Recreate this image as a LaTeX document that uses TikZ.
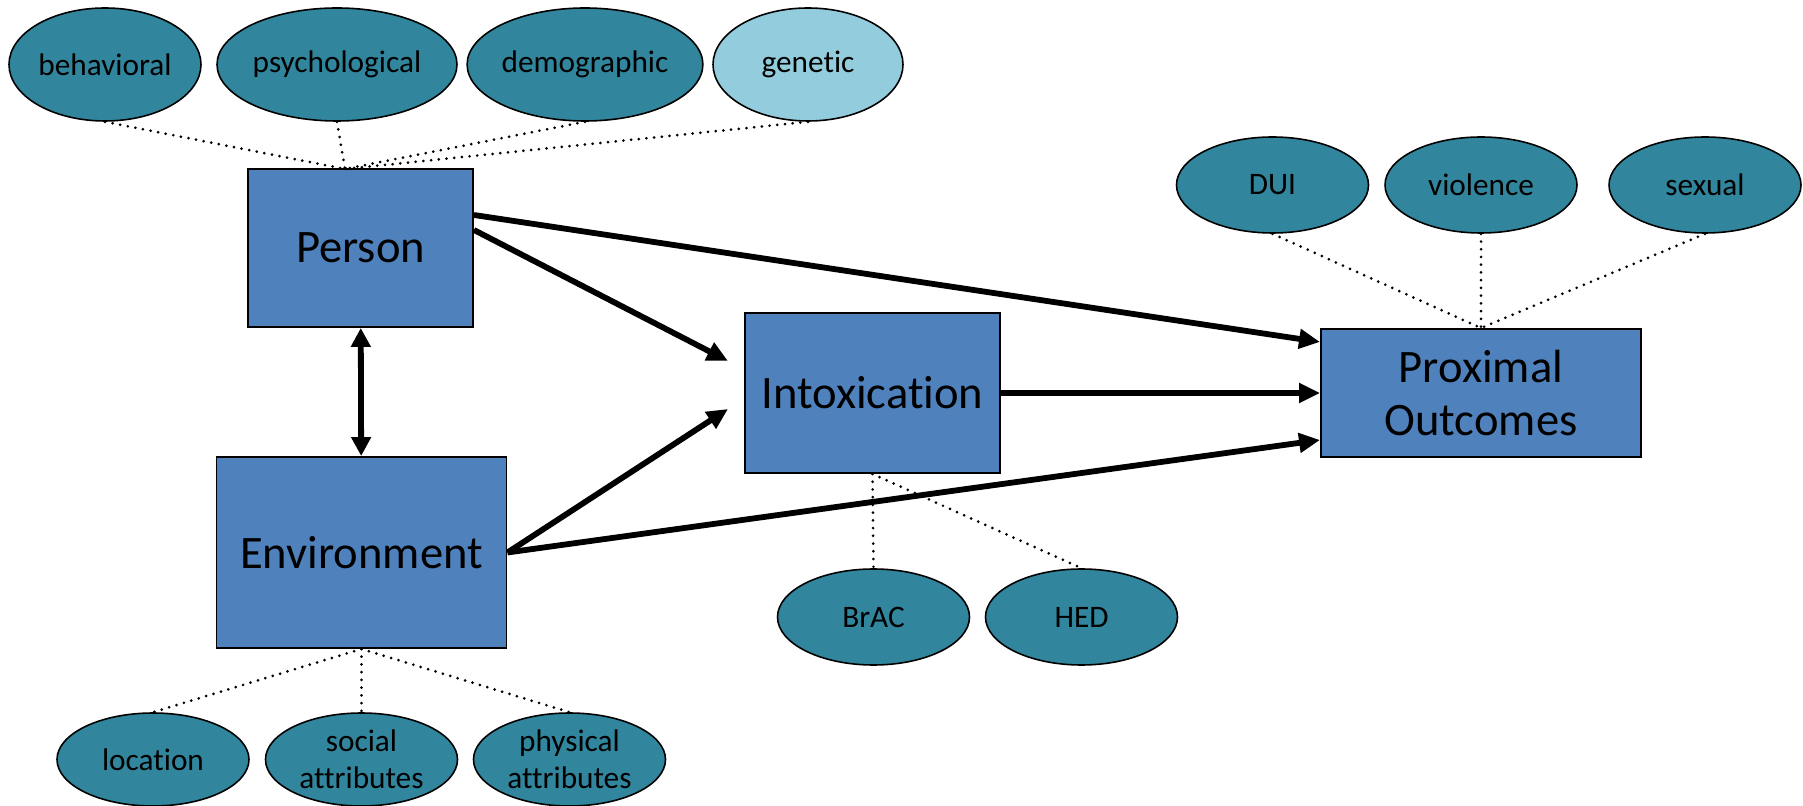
\documentclass[tikz,border=0pt]{standalone}
\usepackage{fontspec}
\setmainfont{Carlito}[Ligatures=NoCommon]
\usetikzlibrary{shapes,arrows.meta}
\definecolor{boxblue}{HTML}{4F81BD}
\definecolor{ovalteal}{HTML}{31859C}
\definecolor{ovallight}{HTML}{93CDDD}

\begin{document}
\begin{tikzpicture}[
    construct/.style = {rectangle, draw, line width=1.1pt, fill=boxblue,
                        inner sep=2pt, align=center,
                        font=\fontsize{26.5}{30}\selectfont},
       facet/.style = {ellipse, draw, line width=0.9pt, fill=ovalteal,
                        inner sep=0pt, align=center,
                        minimum width=3.84cm, minimum height=1.92cm,
                        font=\fontsize{17.8}{21}\selectfont},
   facetlink/.style = {line width=1.7pt, line cap=round,
                       dash pattern=on 0pt off 4.4pt},
     pathway/.style = {line width=3.3pt,
                       -{Triangle[length=0.42cm, width=0.38cm]}}]
\useasboundingbox (0,0) rectangle (36.06,-16.12);
% the four main constructs
\node[construct, minimum width=4.5cm, minimum height=3.16cm]
      (person) at (7.21,-4.96)  {Person};
\node[construct, minimum width=5.8cm, minimum height=3.82cm]
      (env)    at (7.23,-11.05) {Environment};
\node[construct, minimum width=5.1cm, minimum height=3.2cm]
      (intox)  at (17.45,-7.86) {Intoxication};
\node[construct, minimum width=6.4cm, minimum height=2.56cm]
      (prox)   at (29.62,-7.86) {Proximal\\Outcomes};
% facets of the person
\node[facet, minimum height=2.26cm]
      (behav)  at (2.10,-1.29)  {behavioral};
\node[facet, minimum width=4.8cm, minimum height=2.26cm]
      (psych)  at (6.74,-1.29)  {psychological};
\node[facet, minimum width=4.48cm, minimum height=2.26cm]
      (demog)  at (11.70,-1.29) {demographic};
\node[facet, fill=ovallight, minimum width=3.8cm, minimum height=2.26cm]
      (genet)  at (16.16,-1.29) {genetic};
\coordinate (ptop) at (6.90,-3.38);
% facets of the outcomes
\node[facet] (dui)    at (25.45,-3.70) {DUI};
\node[facet] (viol)   at (29.62,-3.70) {violence};
\node[facet] (sexual) at (34.10,-3.70) {sexual};
% facets of intoxication
\node[facet] (brac)   at (17.47,-12.34) {BrAC};
\node[facet] (hed)    at (21.63,-12.34) {HED};
% facets of the environment
\node[facet, minimum height=1.86cm] (loc)    at (3.06,-15.19)  {location};
\node[facet, minimum height=1.86cm] (social) at (7.23,-15.19)  {social\\attributes};
\node[facet, minimum height=1.86cm] (phys)   at (11.39,-15.19) {physical\\attributes};

\foreach \f in {behav,psych,demog,genet}
    \draw[facetlink] (\f.south) -- (ptop);
\foreach \f in {dui,viol,sexual}
    \draw[facetlink] (\f.south) -- (prox.north);
\foreach \f in {brac,hed}
    \draw[facetlink] (intox.south) -- (\f.north);
\foreach \f in {loc,social,phys}
    \draw[facetlink] (env.south) -- (\f.north);

% causal paths
\coordinate (in1) at (14.56,-7.22);
\coordinate (in2) at (14.56,-8.18);
\draw[pathway] ([yshift=0.36cm]person.east) -- (in1);
\draw[pathway] ([yshift=0.66cm]person.east) -- ([yshift=1.02cm]prox.west);
\draw[pathway] (env.east) -- (in2);
\draw[pathway] (env.east) -- ([yshift=-0.94cm]prox.west);
\draw[pathway] (intox) -- (prox);
\draw[pathway, {Triangle[length=0.38cm, width=0.38cm]}-{Triangle[length=0.38cm, width=0.38cm]}]
      (person) -- (env);
\end{tikzpicture}
\end{document}
